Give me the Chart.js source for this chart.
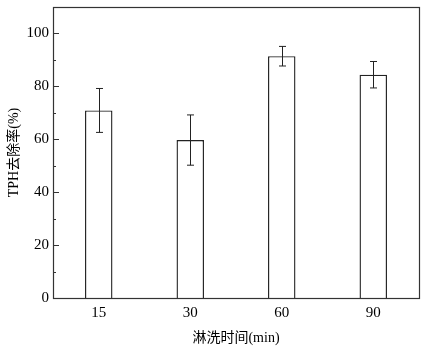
<!DOCTYPE html>
<html>
<head>
<meta charset="utf-8">
<script src="https://cdn.jsdelivr.net/npm/chart.js@4/dist/chart.umd.min.js"></script>
<style>
html,body{margin:0;padding:0;background:#fff;}
#wrap{width:425px;height:347px;}
</style>
</head>
<body>
<div id="wrap"><canvas id="c" width="425" height="347"></canvas></div>
<script>
const categories = ['15', '30', '60', '90'];
const removal = [70.9, 59.7, 91.4, 84.4];
const errors = [8.3, 9.5, 3.7, 5.0];
const yMajorTicks = [0, 20, 40, 60, 80, 100];
const yMinorTicks = [10, 30, 50, 70, 90];
const xTitle = '淋洗时间(min)';
const yTitle = 'TPH去除率(%)';

const FONT = "'Liberation Serif', 'Noto Sans CJK SC', serif";
const INK = '#333333';

const framePlugin = {
  id: 'frameTicks',
  afterDatasetsDraw(chart) {
    const ctx = chart.ctx;
    const a = chart.chartArea;
    const y = chart.scales.y;
    const meta = chart.getDatasetMeta(0);
    ctx.save();
    ctx.strokeStyle = '#222';
    ctx.lineWidth = 1;
    meta.data.forEach((bar, i) => {
      const x = Math.round(bar.x) + 0.5;
      const yHi = y.getPixelForValue(removal[i] + errors[i]);
      const yLo = y.getPixelForValue(removal[i] - errors[i]);
      ctx.beginPath();
      ctx.moveTo(x, yHi); ctx.lineTo(x, yLo);
      ctx.moveTo(x - 3.5, yHi); ctx.lineTo(x + 3.5, yHi);
      ctx.moveTo(x - 3.5, yLo); ctx.lineTo(x + 3.5, yLo);
      ctx.stroke();
    });
    ctx.strokeStyle = INK;
    ctx.lineWidth = 1.2;
    ctx.strokeRect(Math.round(a.left) + 0.5, Math.round(a.top) + 0.5,
      Math.round(a.right - a.left), Math.round(a.bottom - a.top));
    ctx.lineWidth = 1;
    yMajorTicks.forEach(v => {
      const py = Math.round(y.getPixelForValue(v)) + 0.5;
      ctx.beginPath(); ctx.moveTo(a.left, py); ctx.lineTo(a.left + 6, py); ctx.stroke();
    });
    yMinorTicks.forEach(v => {
      const py = Math.round(y.getPixelForValue(v)) + 0.5;
      ctx.beginPath(); ctx.moveTo(a.left, py); ctx.lineTo(a.left + 3, py); ctx.stroke();
    });
    ctx.restore();
  }
};

new Chart(document.getElementById('c'), {
  type: 'bar',
  data: {
    labels: categories,
    datasets: [{
      data: removal,
      backgroundColor: '#ffffff',
      borderColor: '#222222',
      borderWidth: 1.4,
      borderSkipped: 'bottom',
      barPercentage: 0.3,
      categoryPercentage: 1.0
    }]
  },
  options: {
    responsive: false,
    animation: false,
    layout: { padding: { left: 0, right: 6, top: 7, bottom: 0 } },
    plugins: { legend: { display: false }, tooltip: { enabled: false } },
    scales: {
      x: {
        grid: { display: false, drawTicks: false },
        border: { display: false },
        ticks: { color: '#000', font: { family: FONT, size: 15 }, padding: 6 },
        title: { display: true, text: xTitle, color: '#000', font: { family: FONT, size: 14 }, padding: { top: 4, bottom: 0 } },
        afterFit(s) { s.height = 49; s.paddingLeft = 0; s.paddingRight = 0; }
      },
      y: {
        min: 0, max: 110,
        grid: { display: false, drawTicks: false },
        border: { display: false },
        ticks: { stepSize: 20, includeBounds: false, color: '#000', font: { family: FONT, size: 15 }, padding: 4 },
        title: { display: true, text: yTitle, color: '#000', font: { family: FONT, size: 14 }, padding: { top: 6, bottom: 0 } },
        afterFit(s) { s.width = 53; s.paddingTop = 0; s.paddingBottom = 0; }
      }
    }
  },
  plugins: [framePlugin]
});
</script>
</body>
</html>
